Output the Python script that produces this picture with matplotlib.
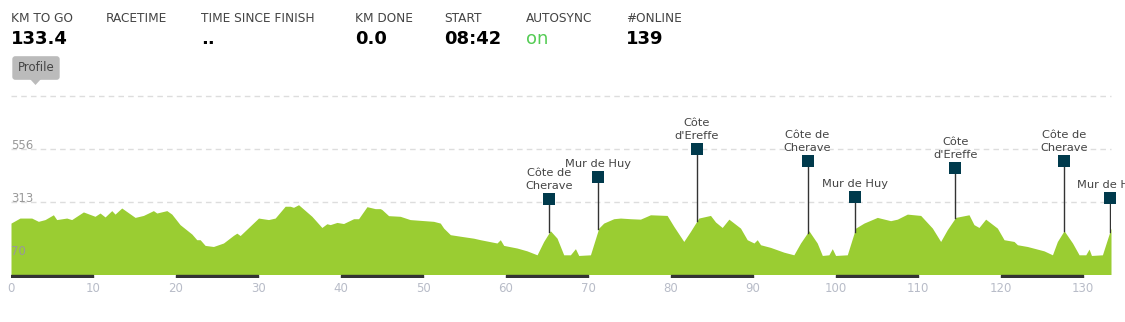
import matplotlib
matplotlib.use("Agg")
import matplotlib.pyplot as plt
from matplotlib.patches import Polygon
import numpy as np

# header info
head_labels = ["KM TO GO", "RACETIME", "TIME SINCE FINISH", "KM DONE", "START", "AUTOSYNC", "#ONLINE"]
head_values = ["133.4", "", "..", "0.0", "08:42", "on", "139"]
head_x = [11, 106, 201, 355, 444, 526, 626]  # pixel positions

# elevation profile (km, m)
km = [0.0, 1.09, 2.51, 3.32, 4.13, 5.14, 5.54, 6.76, 7.36, 8.78, 10.19, 10.8, 11.41, 12.22, 12.62,
      13.43, 15.05, 16.06, 17.27, 17.68, 18.9, 19.5, 20.5, 21.93, 22.53, 22.94, 23.54, 24.55, 25.77,
      26.98, 27.39, 27.79, 30.02, 31.23, 32.04, 33.25, 33.86, 34.26, 34.87, 36.49, 37.7, 38.31, 38.71,
      39.53, 40.33, 41.55, 42.15, 43.17, 44.17, 44.78, 44.98, 45.79, 47.2, 48.4, 51.25, 52.06, 52.47,
      53.28, 54.49, 56.1, 56.92, 58.94, 59.34, 59.75, 61.37, 62.58, 63.8, 64.6, 65.41, 66.22, 67.03,
      67.84, 68.45, 68.85, 70.27, 71.28, 71.88, 73.1, 73.91, 75.12, 76.33, 77.55, 79.57, 80.38, 81.59,
      82.4, 83.41, 84.83, 85.44, 86.25, 87.06, 88.47, 89.28, 90.1, 90.5, 90.9, 92.1, 93.73, 94.94,
      95.75, 96.76, 97.77, 98.39, 99.19, 99.6, 100.0, 101.42, 102.43, 103.44, 105.06, 106.67, 107.49,
      108.7, 110.32, 111.74, 112.74, 113.55, 114.56, 116.18, 116.78, 117.39, 118.2, 119.62, 120.43,
      121.64, 122.05, 123.26, 125.28, 126.3, 126.9, 127.71, 128.73, 129.53, 130.34, 130.74, 131.03,
      132.36, 133.4]
elev = [218, 241, 241, 226, 234, 256, 234, 241, 234, 269, 249, 264, 246, 275, 259,
        287, 244, 253, 275, 264, 275, 259, 211, 168, 142, 142, 116, 111, 127,
        162, 172, 161, 241, 234, 241, 295, 295, 290, 302, 249, 198, 215, 211,
        221, 216, 238, 238, 293, 284, 284, 280, 252, 249, 234, 226, 218, 195,
        165, 158, 149, 142, 127, 142, 116, 104, 91, 73, 134, 183, 149, 73,
        73, 101, 70, 73, 195, 218, 238, 241, 238, 236, 256, 253, 203, 134,
        180, 241, 253, 223, 198, 236, 195, 142, 127, 142, 119, 107, 85, 73,
        127, 183, 127, 70, 73, 101, 70, 73, 195, 218, 244, 229, 236,
        259, 253, 195, 134, 188, 244, 256, 211, 198, 236, 195, 142,
        134, 119, 111, 91, 73, 134, 183, 127, 73, 73, 99, 70,
        73, 195]

# climbs
climb_names = ["Côte de\nCherave", "Mur de Huy", "Côte\nd'Ereffe", "Côte de\nCherave", "Mur de Huy",
               "Côte\nd'Ereffe", "Côte de\nCherave", "Mur de Huy"]
climb_km = [65.3, 71.24, 83.2, 96.6, 102.3, 114.5, 127.7, 133.25]
climb_flag = [327, 428, 556, 501, 336, 469, 501, 331]

grid_vals = [70, 313, 556]

W, H = 1125, 322
fig = plt.figure(figsize=(W / 100, H / 100), dpi=100)

# header
for x, lab, val in zip(head_x, head_labels, head_values):
    fig.text(x / W, 1 - 18 / H, lab, ha="left", va="center", fontsize=8.7, color="#444444")
    col = "#55cc55" if val == "on" else "black"
    wt = "normal" if val == "on" else "bold"
    fig.text(x / W, 1 - 39 / H, val, ha="left", va="center", fontsize=13, color=col, fontweight=wt)

# Profile tab
fig.text(36 / W, 1 - 68 / H, "Profile", ha="center", va="center", fontsize=8.5, color="#444444",
         bbox=dict(boxstyle="round,pad=0.45,rounding_size=0.25", fc="#bbbbbb", ec="none"))
fig.patches.append(Polygon([[30 / W, 1 - 79 / H], [41 / W, 1 - 79 / H], [35.5 / W, 1 - 85 / H]],
                           closed=True, fc="#bbbbbb", ec="none", transform=fig.transFigure))

ax = fig.add_axes([11 / W, 1 - 278 / H, 1100 / W, (278 - 96) / H])
ax.set_xlim(0, 133.4)
ax.set_ylim(-33, 799)

# dashed grid
ax.hlines([313, 556, 799], 0, 133.4, colors="#dddddd", linestyles=(0, (4, 3)), lw=1, zorder=0,
          clip_on=False)
ax.fill_between(km, elev, -17, color="#9acd32", lw=0, zorder=1)

# alternating 10 km bars
ax.broken_barh([(s, 10) for s in range(0, 130, 20)], (-33, 16), color="#333333", zorder=2)

for v in grid_vals:
    ax.text(0, v, str(v), ha="left", va="baseline", fontsize=8.5, color="#999999", zorder=3)

for name, k, h in zip(climb_names, climb_km, climb_flag):
    base = np.interp(k, km, elev)
    ax.plot([k, k], [base, h], color="#333333", lw=1, zorder=3)
    ax.plot(k, h, marker="s", ms=9, color="#003a4c", mew=0, zorder=4, clip_on=False)
    ax.annotate(name, (k, h), xytext=(0, 8), textcoords="offset pixels", ha="center", va="bottom",
                multialignment="center", fontsize=8.2, color="#444444", linespacing=1.35,
                annotation_clip=False)

ax.set_xticks(range(0, 140, 10))
ax.set_yticks([])
ax.tick_params(axis="x", length=0, pad=3, labelcolor="#b8bcc8", labelsize=8.5)
for s in ax.spines.values():
    s.set_visible(False)

fig.savefig("out.png", dpi=100)
